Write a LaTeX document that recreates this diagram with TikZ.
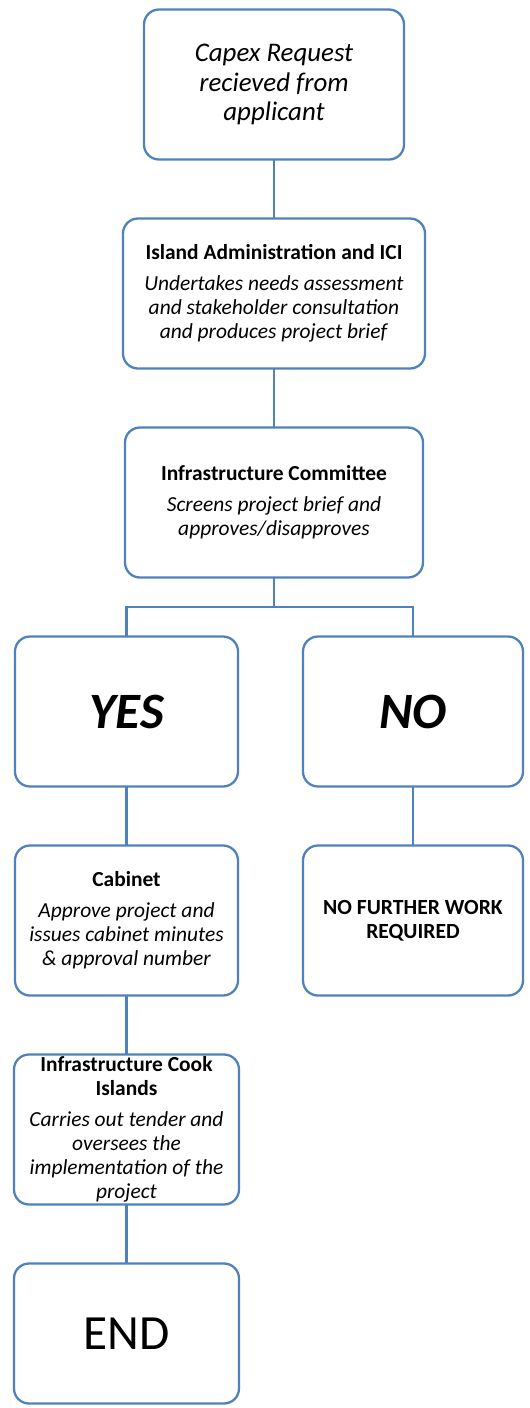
\documentclass[tikz,border=0pt]{standalone}
\usepackage{fontspec}
\setmainfont{Carlito}
\usetikzlibrary{positioning}
\definecolor{boxblue}{RGB}{79,129,189}

\begin{document}
\begin{tikzpicture}[
    node distance=1.18cm and 1.3cm, % gaps between the stages
    stage/.style={rectangle, draw=boxblue, line width=1.3pt, rounded corners=0.3cm, fill=white, align=center, minimum width=4.46cm, minimum height=3cm, inner xsep=3pt, inner ysep=0pt, outer sep=0pt, font=\fontsize{12.2}{13.6}\selectfont},
    link/.style={draw=boxblue, line width=1.5pt}
]
    \useasboundingbox (0,0) rectangle (10.58,-28.16);

    % Nodes
    \node[stage, minimum width=5.2cm, font=\fontsize{15.3}{17}\selectfont\itshape] (request) at (5.48,-1.69) {Capex Request\\recieved from\\applicant};
    \node[stage, minimum width=6.04cm, below=of request] (admin) {\textbf{Island Administration and ICI}\\[4pt]\textit{Undertakes needs assessment}\\\textit{and stakeholder consultation}\\\textit{and produces project brief}};
    \node[stage, minimum width=5.96cm, below=of admin] (committee) {\textbf{Infrastructure Committee}\\[4pt]\textit{Screens project brief and}\\\textit{approves/disapproves}};
    \node[stage, below=of committee, xshift=-2.95cm, font=\fontsize{29}{32}\selectfont\bfseries\itshape] (yes) {YES};
    \node[stage, right=of yes, minimum width=4.4cm, font=\fontsize{29}{32}\selectfont\bfseries\itshape] (no) {NO};
    \node[stage, below=of yes] (cabinet) {\textbf{Cabinet}\\[4pt]\textit{Approve project and}\\\textit{issues cabinet minutes}\\\textit{\& approval number}};
    \node[stage, below=of no, minimum width=4.4cm, font=\fontsize{12.3}{13.6}\selectfont\bfseries] (nowork) {NO FURTHER WORK\\REQUIRED};
    \node[stage, below=of cabinet, minimum width=4.5cm] (ici) {\textbf{Infrastructure Cook}\\\textbf{Islands}\\[4pt]\textit{Carries out tender and}\\\textit{oversees the}\\\textit{implementation of the}\\\textit{project}};
    \node[stage, below=of ici, minimum width=4.5cm, minimum height=2.8cm, font=\fontsize{28}{32}\selectfont] (end) {END};

    % Connections
    \draw[link] (request) -- (admin);
    \draw[link] (admin) -- (committee);
    \draw[link] (committee.south) -- ++(0,-0.59) coordinate (split);
    \draw[link] (split) -| (yes.north);
    \draw[link] (split) -| (no.north);
    \draw[link] (yes) -- (cabinet);
    \draw[link] (no) -- (nowork);
    \draw[link] (cabinet) -- (ici);
    \draw[link] (ici) -- (end);
\end{tikzpicture}
\end{document}
